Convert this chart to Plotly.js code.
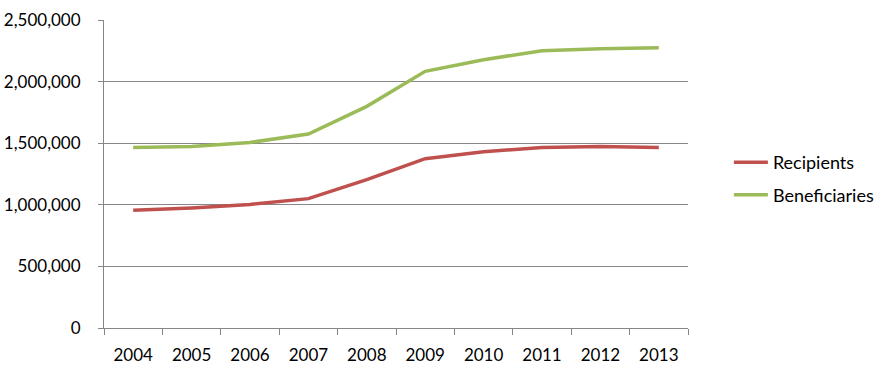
<!DOCTYPE html>
<html><head><meta charset="utf-8">
<script src="https://cdn.plot.ly/plotly-3.0.1.min.js"></script>
<style>html,body{margin:0;padding:0;background:#fff}#chart{width:892px;height:366px}</style>
</head><body><div id="chart"></div>
<script>
const years = ["2004","2005","2006","2007","2008","2009","2010","2011","2012","2013"];
const recipients = [955000, 974000, 1003000, 1050000, 1204000, 1374000, 1431000, 1466000, 1474000, 1466000];
const beneficiaries = [1466000, 1474000, 1506000, 1575000, 1799000, 2083000, 2178000, 2251000, 2267000, 2275000];
const yTicks = [0, 500000, 1000000, 1500000, 2000000, 2500000];
const yTickText = ["0", "500,000", "1,000,000", "1,500,000", "2,000,000", "2,500,000"];

const font = {family: "Lato, 'Open Sans', sans-serif", size: 17, color: "#000"};
const legendFont = {family: "Lato, 'Open Sans', sans-serif", size: 18, color: "#000"};
const data = [
  {x: years, y: recipients, name: "Recipients", type: "scatter", mode: "lines",
   legendgroup: "a", line: {color: "#C0504D", width: 3.5}},
  {x: years, y: beneficiaries, name: "Beneficiaries", type: "scatter", mode: "lines",
   legendgroup: "b", line: {color: "#9BBB59", width: 3.5}}
];
const layout = {
  width: 892, height: 366,
  margin: {l: 104, r: 204, t: 20, b: 38},
  paper_bgcolor: "#fff", plot_bgcolor: "#fff",
  font: font,
  showlegend: true,
  legend: {x: 1.07, xanchor: "left", y: 0.485, yanchor: "middle", font: legendFont,
           bgcolor: "rgba(0,0,0,0)", tracegroupgap: 6, traceorder: "grouped", itemwidth: 34},
  xaxis: {type: "category", range: [-0.5, 9.5], showgrid: false, zeroline: false,
          showline: true, linecolor: "#868686", linewidth: 1,
          ticks: "outside", ticklen: 6, tickcolor: "#868686", tickson: "boundaries",
          tickfont: font, ticklabelstandoff: 12},
  yaxis: {range: [0, 2500000], tickvals: yTicks, ticktext: yTickText,
          showgrid: true, gridcolor: "#868686", gridwidth: 1, zeroline: false,
          showline: true, linecolor: "#868686", linewidth: 1,
          ticks: "outside", ticklen: 5, tickcolor: "#868686",
          tickfont: font, ticklabelstandoff: 14}
};
Plotly.newPlot("chart", data, layout, {displayModeBar: false, staticPlot: true});
</script></body></html>
